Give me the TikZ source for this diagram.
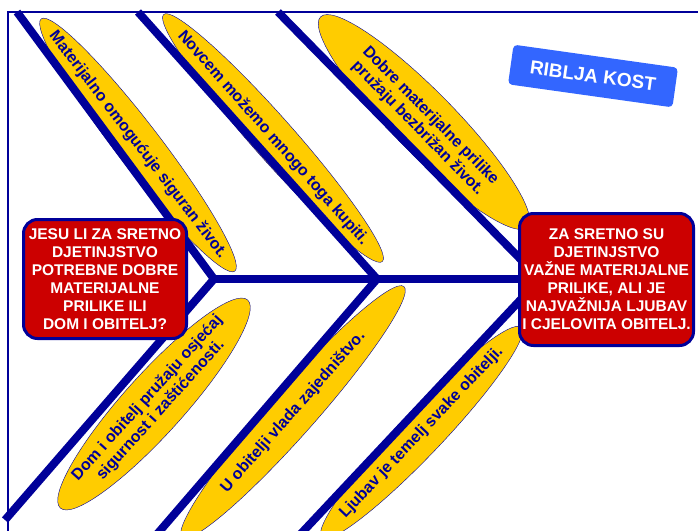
\documentclass[tikz,border=0pt]{standalone}
\usepackage{fontspec}
\setmainfont{Liberation Sans}
\usepackage{xcolor}
\usepackage{tikz}
\usetikzlibrary{shapes.geometric}
\definecolor{tamnoplava}{RGB}{0,0,153}
\definecolor{zuta}{RGB}{255,204,0}
\definecolor{crvena}{RGB}{204,0,0}
\definecolor{plava}{RGB}{51,102,255}

\begin{document}
\begin{tikzpicture}[x=1pt,y=-1pt,
   kost/.style={draw=tamnoplava,line width=8pt},
   mjehur/.style={ellipse,draw=tamnoplava,fill=zuta,text=tamnoplava,inner xsep=-80pt,inner ysep=0pt,
      font=\fontsize{16}{18}\selectfont\bfseries,align=center},
   pitanje/.style={rectangle,rounded corners=14pt,draw=tamnoplava,line width=3pt,fill=crvena,
      text=white,inner xsep=1pt,font=\fontsize{15.5}{18}\selectfont\bfseries,align=center},
   naslov/.style={rectangle,rounded corners=4pt,fill=plava,text=white,
      font=\fontsize{19}{22}\selectfont\bfseries}]

  \useasboundingbox (0,0) rectangle (698,530);
  \clip (0,0) rectangle (698,530);

  % okvir
  \draw[tamnoplava,line width=1.5pt] (8,545) -- (8,12) -- (710,12);

  % mjehurici
  \node[mjehur,rotate=-52.5,minimum width=318pt,minimum height=44pt] (m1) at (138,145)
    {Materijalno omogućuje siguran život.};
  \node[mjehur,rotate=-48.5,minimum width=330pt,minimum height=42pt] (m2) at (273,138)
    {Novcem možemo mnogo toga kupiti.};
  \node[mjehur,rotate=-45.5,minimum width=295pt,minimum height=62pt] (m3) at (424,122)
    {Dobre materijalne prilike\\pružaju bezbrižan život.};
  \node[mjehur,rotate=48,minimum width=280pt,minimum height=60pt] (o1) at (154,404)
    {Dom i obitelj pružaju osjećaj\\sigurnost i zaštićenosti.};
  \node[mjehur,rotate=48.5,minimum width=335pt,minimum height=46pt] (o2) at (293,412)
    {U obitelji vlada zajedništvo.};
  \node[mjehur,rotate=46.5,minimum width=290pt,minimum height=44pt] (o3) at (421.5,432.5)
    {Ljubav je temelj svake obitelji.};

  % kosti
  \coordinate (j1) at (214,279);
  \coordinate (j2) at (377,279);
  \coordinate (j3) at (540,279);
  \coordinate (t1) at (17,12);
  \coordinate (t2) at (138,12);
  \coordinate (t3) at (278,12);
  \coordinate (d1) at (5,520);
  \coordinate (d2) at (152,540);
  \coordinate (d3) at (295,540);

  \foreach \gore/\spoj/\dolje in {t1/j1/d1,t2/j2/d2,t3/j3/d3}
    \draw[kost] (\gore) -- (\spoj) -- (\dolje);
  \draw[kost] (j1) -- (j3);

  % glava i rep
  \node[pitanje,minimum width=163pt,minimum height=119pt] (pitanje) at (105,279)
    {JESU LI ZA SRETNO\\DJETINJSTVO\\POTREBNE DOBRE\\MATERIJALNE\\PRILIKE ILI\\DOM I OBITELJ?};
  \node[pitanje,minimum width=174pt,minimum height=132pt] (odgovor) at (606.5,279.5)
    {ZA SRETNO SU\\DJETINJSTVO\\VAŽNE MATERIJALNE\\PRILIKE, ALI JE\\NAJVAŽNIJA LJUBAV\\I CJELOVITA OBITELJ.};

  \node[naslov,rotate=-8,minimum width=166pt,minimum height=40pt] (naslov) at (593,76) {RIBLJA KOST};
\end{tikzpicture}
\end{document}
